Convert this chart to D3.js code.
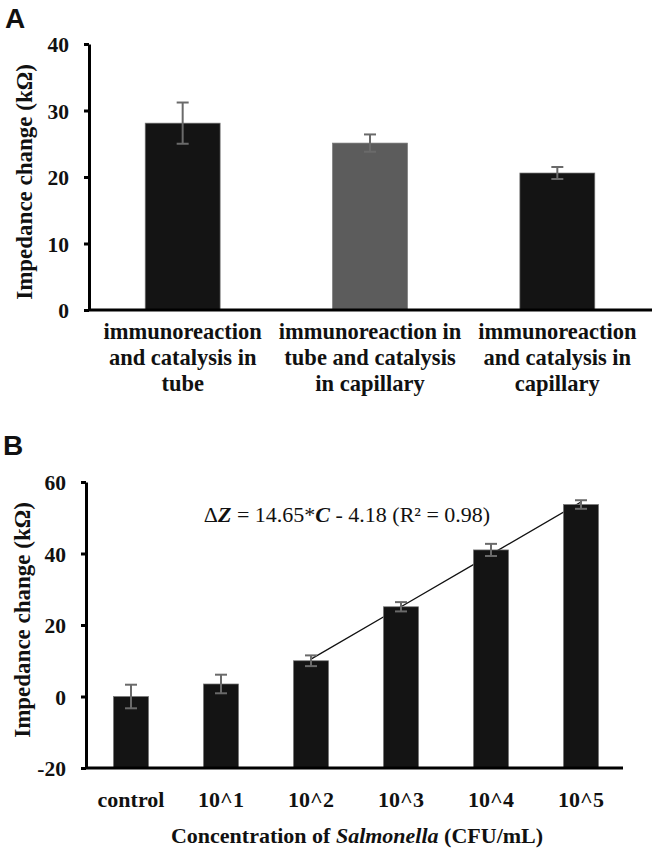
<!DOCTYPE html>
<html>
<head>
<meta charset="utf-8">
<script src="https://cdn.jsdelivr.net/npm/d3@7/dist/d3.min.js"></script>
<style>
  body { margin: 0; background: #fff; }
  svg text { font-family: "Liberation Serif", "Times New Roman", serif; fill: #111; }
  svg text.sans { font-family: "Liberation Sans", Arial, sans-serif; }
</style>
</head>
<body>
<svg id="chart" width="652" height="851"></svg>
<script>
// panel A data
const catsA = [
  ["immunoreaction", "and catalysis in", "tube"],
  ["immunoreaction in", "tube and catalysis", "in capillary"],
  ["immunoreaction", "and catalysis in", "capillary"]
];
const valuesA = [28.1, 25.1, 20.6];
const errorsA = [3.1, 1.3, 0.9];
const colorsA = ["#141414", "#5c5c5c", "#141414"];
const ticksA = [0, 10, 20, 30, 40];

// panel B data
const catsB = ["control", "10^1", "10^2", "10^3", "10^4", "10^5"];
const valuesB = [0.0, 3.5, 10.0, 25.1, 41.0, 53.7];
const errorsB = [3.3, 2.6, 1.5, 1.3, 1.7, 1.2];
const ticksB = [-20, 0, 20, 40, 60];
// linear fit shown on the chart: dZ = 14.65*C - 4.18, C = 1..4 for 10^2..10^5
const fitCats = ["10^2", "10^3", "10^4", "10^5"];
const fitSlope = 14.65, fitIntercept = -4.18;

const svg = d3.select("#chart");

function yAxis(g, y, ticks) {
  g.call(d3.axisLeft(y).tickValues(ticks).tickFormat(d => String(d))
    .tickSize(5).tickSizeOuter(0).tickPadding(15));
  g.attr("font-family", null);
  g.select(".domain").attr("stroke", "#000").attr("stroke-width", 3);
  g.selectAll(".tick line").attr("stroke", "#000").attr("stroke-width", 3);
  g.selectAll(".tick text")
    .attr("font-weight", "bold")
    .attr("font-size", 21.5)
    .attr("fill", "#111")
    .attr("dy", "0.36em");
}

function errorBars(g, data, x, y, cap) {
  const eb = g.selectAll(".err").data(data).join("g")
    .attr("stroke", "#6a6a6a").attr("stroke-width", 2);
  eb.append("line")
    .attr("x1", d => x(d.c) + x.bandwidth() / 2).attr("x2", d => x(d.c) + x.bandwidth() / 2)
    .attr("y1", d => y(d.v + d.e)).attr("y2", d => y(d.v - d.e));
  eb.append("line")
    .attr("x1", d => x(d.c) + x.bandwidth() / 2 - cap).attr("x2", d => x(d.c) + x.bandwidth() / 2 + cap)
    .attr("y1", d => y(d.v + d.e)).attr("y2", d => y(d.v + d.e));
  eb.append("line")
    .attr("x1", d => x(d.c) + x.bandwidth() / 2 - cap).attr("x2", d => x(d.c) + x.bandwidth() / 2 + cap)
    .attr("y1", d => y(d.v - d.e)).attr("y2", d => y(d.v - d.e));
}

// ---------- panel A ----------
{
  const keys = catsA.map((d, i) => "a" + i);
  const data = keys.map((k, i) => ({ c: k, v: valuesA[i], e: errorsA[i], col: colorsA[i], lines: catsA[i] }));
  const x = d3.scaleBand().domain(keys).range([89, 651]).paddingInner(0.6).paddingOuter(0.3);
  const y = d3.scaleLinear().domain([0, 40]).range([310, 44]);
  const g = svg.append("g");

  svg.append("text").attr("class", "sans").attr("x", 5).attr("y", 28)
    .attr("font-weight", "bold").attr("font-size", 28).text("A");

  g.selectAll(".bar").data(data).join("rect")
    .attr("x", d => x(d.c)).attr("width", x.bandwidth())
    .attr("y", d => y(d.v)).attr("height", d => y(0) - y(d.v))
    .attr("fill", d => d.col).attr("stroke", "#777").attr("stroke-width", 0.7);

  errorBars(g, data, x, y, 6);

  g.append("g").attr("transform", "translate(89,0)").call(yAxis, y, ticksA);
  g.append("line").attr("x1", 88).attr("x2", 652).attr("y1", y(0)).attr("y2", y(0))
    .attr("stroke", "#000").attr("stroke-width", 3);

  const lab = g.selectAll(".lab").data(data).join("text")
    .attr("text-anchor", "middle").attr("font-weight", "bold").attr("font-size", 22.5);
  lab.selectAll("tspan").data(d => d.lines.map(t => ({ t, x: x(d.c) + x.bandwidth() / 2 }))).join("tspan")
    .attr("x", d => d.x).attr("y", (d, i) => 339 + i * 26).text(d => d.t);

  g.append("text").attr("transform", "translate(32,182) rotate(-90)")
    .attr("text-anchor", "middle").attr("font-weight", "bold").attr("font-size", 23)
    .text("Impedance change (kΩ)");
}

// ---------- panel B ----------
{
  const data = catsB.map((c, i) => ({ c, v: valuesB[i], e: errorsB[i] }));
  const x = d3.scaleBand().domain(catsB).range([86, 626]).paddingInner(0.61).paddingOuter(0.305);
  const y = d3.scaleLinear().domain([-20, 60]).range([768, 482]);
  const g = svg.append("g");

  svg.append("text").attr("class", "sans").attr("x", 3).attr("y", 455)
    .attr("font-weight", "bold").attr("font-size", 28).text("B");

  // trend line (behind bars)
  const fit = fitCats.map((c, i) => [x(c) + x.bandwidth() / 2, y(fitSlope * (i + 1) + fitIntercept)]);
  g.append("path").attr("d", d3.line()(fit)).attr("fill", "none")
    .attr("stroke", "#111").attr("stroke-width", 1.3);

  g.selectAll(".bar").data(data).join("rect")
    .attr("x", d => x(d.c)).attr("width", x.bandwidth())
    .attr("y", d => y(d.v)).attr("height", d => y(-20) - y(d.v))
    .attr("fill", "#141414").attr("stroke", "#777").attr("stroke-width", 0.7);

  errorBars(g, data, x, y, 6);

  g.append("g").attr("transform", "translate(86,0)").call(yAxis, y, ticksB);
  g.append("line").attr("x1", 85).attr("x2", 623).attr("y1", y(-20)).attr("y2", y(-20))
    .attr("stroke", "#000").attr("stroke-width", 3);

  g.selectAll(".lab").data(data).join("text")
    .attr("x", d => x(d.c) + x.bandwidth() / 2).attr("y", 807)
    .attr("text-anchor", "middle").attr("font-weight", "bold").attr("font-size", 22)
    .text(d => d.c);

  const t = g.append("text").attr("x", 357).attr("y", 843).attr("text-anchor", "middle")
    .attr("font-weight", "bold").attr("font-size", 22);
  t.append("tspan").text("Concentration of ");
  t.append("tspan").attr("font-style", "italic").text("Salmonella");
  t.append("tspan").text(" (CFU/mL)");

  const eq = g.append("text").attr("x", 347).attr("y", 522).attr("text-anchor", "middle")
    .attr("font-size", 22);
  eq.append("tspan").text("Δ");
  eq.append("tspan").attr("font-weight", "bold").attr("font-style", "italic").text("Z");
  eq.append("tspan").text(" = 14.65*");
  eq.append("tspan").attr("font-weight", "bold").attr("font-style", "italic").text("C");
  eq.append("tspan").text(" - 4.18 (R² = 0.98)");

  g.append("text").attr("transform", "translate(30,620) rotate(-90)")
    .attr("text-anchor", "middle").attr("font-weight", "bold").attr("font-size", 23)
    .text("Impedance change (kΩ)");
}
</script>
</body>
</html>
